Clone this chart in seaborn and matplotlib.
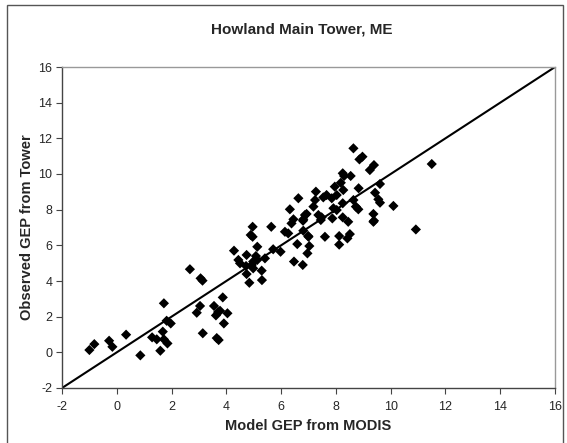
import matplotlib
matplotlib.use("Agg")
import matplotlib.pyplot as plt
import seaborn as sns
import pandas as pd
from matplotlib.patches import Rectangle

model_gep = [
    -1.00, -0.82, -0.28, -0.16, 0.34, 0.86, 1.29, 1.46, 1.59, 1.68,
    1.72, 1.85, 1.72, 1.82, 1.97, 2.92, 3.04, 3.14, 3.55, 3.62,
    3.70, 3.77, 4.04, 3.91, 3.65, 3.72, 3.87, 2.67, 3.06, 3.13,
    4.28, 4.44, 4.50, 4.74, 5.08, 5.41, 4.98, 4.72, 4.98, 4.93,
    5.13, 5.29, 4.74, 4.84, 5.30, 5.13, 5.71, 5.98, 4.89, 4.96,
    4.96, 5.64, 6.38, 6.80, 6.14, 6.26, 6.81, 6.99, 7.60, 8.12,
    8.51, 8.42, 8.12, 8.45, 9.37, 6.59, 7.03, 6.96, 6.47, 6.79,
    6.63, 6.32, 6.45, 6.93, 8.64, 8.86, 8.97, 9.24, 9.39, 11.50,
    8.25, 8.30, 8.54, 8.18, 7.96, 8.27, 8.83, 9.61, 7.27, 7.66,
    7.85, 8.03, 7.54, 7.24, 9.43, 9.55, 9.61, 8.25, 8.64, 8.73,
    8.82, 10.10, 7.18, 8.03, 7.91, 7.36, 7.48, 7.45, 6.81, 7.87,
    8.25, 9.37, 9.39, 10.92, 7.00, 6.87,
]
observed_gep = [
    0.13, 0.46, 0.65, 0.31, 0.99, -0.17, 0.84, 0.73, 0.09, 1.16,
    0.73, 0.50, 2.75, 1.77, 1.62, 2.22, 2.60, 1.07, 2.60, 2.07,
    2.26, 2.33, 2.19, 1.62, 0.80, 0.69, 3.08, 4.66, 4.15, 4.02,
    5.70, 5.18, 4.99, 5.46, 5.40, 5.27, 5.09, 4.84, 4.71, 4.90,
    5.18, 4.58, 4.39, 3.90, 4.05, 5.92, 5.78, 5.64, 6.58, 6.48,
    7.04, 7.04, 7.23, 7.38, 6.76, 6.67, 6.82, 6.52, 6.48, 6.52,
    6.63, 6.39, 6.04, 7.32, 7.32, 6.07, 5.96, 5.55, 5.09, 4.90,
    8.64, 8.02, 7.46, 7.76, 11.44, 10.82, 10.97, 10.22, 10.50, 10.56,
    10.04, 9.89, 9.89, 9.51, 9.29, 9.10, 9.20, 9.44, 9.01, 8.82,
    8.64, 8.82, 8.69, 8.54, 8.95, 8.58, 8.39, 8.36, 8.54, 8.17,
    8.02, 8.21, 8.17, 7.98, 8.08, 7.70, 7.57, 7.42, 7.46, 7.51,
    7.57, 7.76, 7.38, 6.89, 6.48, 7.70,
]
line_vals = [-2, 16]
ticks = [-2, 0, 2, 4, 6, 8, 10, 12, 14, 16]

title = "Howland Main Tower, ME"
xlabel = "Model GEP from MODIS"
ylabel = "Observed GEP from Tower"

sns.set_style("white")
plt.rcParams['font.family'] = ['Liberation Sans', 'DejaVu Sans']
plt.rcParams['axes.unicode_minus'] = False

df = pd.DataFrame({"model": model_gep, "obs": observed_gep})

fig = plt.figure(figsize=(5.67, 4.43), dpi=100)
fig.patch.set_facecolor("white")
fig.patches.append(Rectangle((7 / 567, -0.05), (563 - 7) / 567, 1 - 5 / 443 + 0.05,
                             transform=fig.transFigure, fill=False,
                             edgecolor="#555555", linewidth=1.0))
ax = fig.add_axes([62 / 567, 1 - 388 / 443, (555 - 62) / 567, (388 - 67) / 443])

sns.lineplot(x=line_vals, y=line_vals, color="black", linewidth=1.5, ax=ax)
sns.scatterplot(data=df, x="model", y="obs", marker="D", color="black",
                edgecolor="none", s=27, ax=ax, zorder=3)

ax.set_xlim(-2, 16)
ax.set_ylim(-2, 16)
ax.set_xticks(ticks)
ax.set_yticks(ticks)
ax.tick_params(axis="both", direction="out", length=4, width=0.8,
               color="#444444", labelsize=9, pad=3, bottom=True, left=True)
ax.tick_params(axis="x", pad=5)
for sp in ax.spines.values():
    sp.set_color("#999999")
    sp.set_linewidth(1.0)
ax.spines["left"].set_color("#444444")
ax.spines["bottom"].set_color("#444444")

ax.set_xlabel(xlabel, fontsize=10.5, fontweight="bold", labelpad=5)
ax.set_ylabel(ylabel, fontsize=10.5, fontweight="bold", labelpad=3)
fig.text(302 / 567, 1 - 29 / 443, title, ha="center", va="center",
         fontsize=11, fontweight="bold")

fig.savefig("out.png", dpi=100)
